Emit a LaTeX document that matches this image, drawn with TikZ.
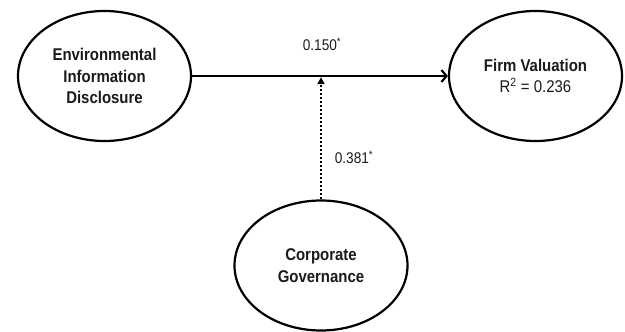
\documentclass[tikz,border=0pt]{standalone}
\usepackage{fontspec}
\setmainfont{Liberation Sans}[FakeStretch=0.88]
\usetikzlibrary{shapes.geometric,arrows.meta}
\begin{document}
\begin{tikzpicture}[x=1pt, y=-1pt,
  construct/.style = {ellipse, draw, line width = 2.2pt, minimum width = 173pt, minimum height = 130pt, inner sep = 0pt, align = center, font = \fontsize{17}{21.5}\selectfont},
  coef/.style = {font = \fontsize{15.5}{18}\selectfont, inner sep = 0pt}]
\definecolor{ink}{HTML}{1A1A1A}
\useasboundingbox (0, 0) rectangle (625, 332);
\node[construct, text = ink] (eid) at (104.5, 76) {\textbf{Environmental}\\\textbf{Information}\\\textbf{Disclosure}};
\node[construct, text = ink] (fv) at (535.5, 76) {\textbf{Firm Valuation}\\R\textsuperscript{2} = 0.236};
\node[construct, text = ink] (cg) at (321, 265.5) {\textbf{Corporate}\\\textbf{Governance}};
\draw[line width = 2.2pt, -{Straight Barb[length = 5pt, width = 12pt]}] (eid) -- (fv);
\coordinate (hit) at (cg.north |- eid.east);
\draw[line width = 2.4pt, dash pattern = on 2pt off 2pt, -{Triangle[length = 7pt, width = 7pt]}, shorten > = 1.2pt] (cg.north) -- (hit);
\node[coef, text = ink] (b1) at (322, 44) {0.150\textsuperscript{*}};
\node[coef, text = ink] (b2) at (354, 157.5) {0.381\textsuperscript{*}};
\end{tikzpicture}
\end{document}
